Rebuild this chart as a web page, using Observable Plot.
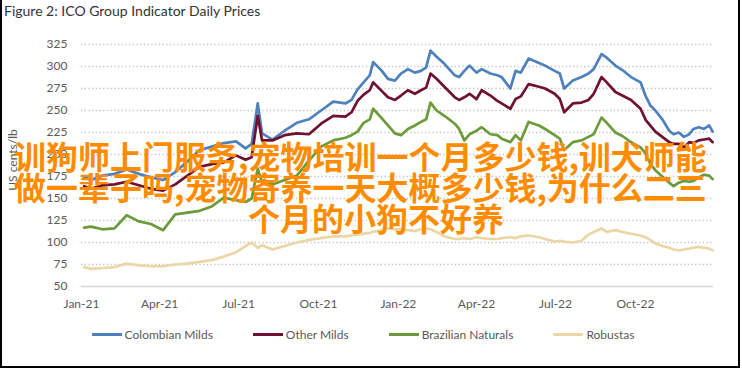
<!DOCTYPE html>
<html><head><meta charset="utf-8">
<script src="https://cdn.jsdelivr.net/npm/d3@7"></script>
<script src="https://cdn.jsdelivr.net/npm/@observablehq/plot@0.6"></script>
<style>
html,body{margin:0;padding:0;background:#fff;}
#wrap{position:relative;width:742px;height:369px;overflow:hidden;font-family:Lato,"Open Sans",sans-serif;}
#frame{position:absolute;left:0;top:-2px;width:736px;height:366px;border:2px solid #000;}
#title{position:absolute;left:4px;top:2px;font-size:14px;color:#333;white-space:nowrap;}
#chart{position:absolute;left:0;top:0;}
#ylabel{position:absolute;left:12px;top:160px;transform:translate(-50%,-50%) rotate(-90deg);font-size:12px;color:#595959;white-space:nowrap;}
#legend{position:absolute;left:-8px;top:327px;width:742px;display:flex;justify-content:center;gap:40px;font-size:12px;color:#595959;}
#legend .item{display:flex;align-items:center;gap:3px;white-space:nowrap;}
#legend .sw{width:30px;height:3px;}
#overlay{position:absolute;left:14px;top:140px;width:724px;font-family:"Noto Sans CJK SC",sans-serif;font-weight:700;font-size:32px;line-height:31px;color:#ff8c00;white-space:nowrap;}
#overlay div{text-align:left;}
#overlay div.last{text-align:center;}
</style></head>
<body>
<div id="wrap">
  <div id="frame"></div>
  <div id="title"></div>
  <div id="chart"></div>
  <div id="ylabel"></div>
  <div id="legend"></div>
  <div id="overlay"></div>
</div>
<script>
const titleText = "Figure 2: ICO Group Indicator Daily Prices";
const yLabel = "US cents/lb";
const seriesNames = ["Colombian Milds", "Other Milds", "Brazilian Naturals", "Robustas"];
const seriesColors = ["#4f81bd", "#6e1230", "#6b9b3a", "#ecd6a6"];
const yTicks = [50, 75, 100, 125, 150, 175, 200, 225, 250, 275, 300, 325];
const xTickDates = ["2021-01-01","2021-04-01","2021-07-01","2021-10-01","2022-01-01","2022-04-01","2022-07-01","2022-10-01"];
const overlayLines = [
  "训狗师上门服务,宠物培训一个月多少钱,训犬师能",
  "做一辈子吗,宠物寄养一天大概多少钱,为什么二三",
  "个月的小狗不好养"
];

const dates = [
 "2021-01-04","2021-01-12","2021-01-25","2021-02-08","2021-02-22","2021-03-08","2021-03-22","2021-04-05","2021-04-19","2021-05-03",
 "2021-05-17","2021-05-31","2021-06-14","2021-06-28","2021-07-09","2021-07-16","2021-07-23","2021-07-28","2021-08-09","2021-08-23",
 "2021-09-06","2021-09-20","2021-10-04","2021-10-18","2021-11-01","2021-11-08","2021-11-15","2021-11-22","2021-11-29","2021-12-03",
 "2021-12-13","2021-12-20","2021-12-28",
 "2022-01-04","2022-01-12","2022-01-20","2022-01-27","2022-02-02","2022-02-07","2022-02-14","2022-02-23","2022-03-07","2022-03-12",
 "2022-03-18","2022-03-24","2022-04-01","2022-04-07","2022-04-17","2022-04-25","2022-04-30","2022-05-10","2022-05-16","2022-05-22",
 "2022-05-31","2022-06-12","2022-06-19","2022-06-30","2022-07-06","2022-07-11","2022-07-21","2022-07-31","2022-08-08","2022-08-14",
 "2022-08-23","2022-08-29","2022-09-08","2022-09-16","2022-09-26","2022-10-07","2022-10-13","2022-10-18","2022-10-24","2022-11-01",
 "2022-11-09","2022-11-14","2022-11-20","2022-11-26","2022-12-02","2022-12-07","2022-12-13","2022-12-19","2022-12-25","2022-12-29"
];
const colombianMilds = [
 174,171,176,178,183,178,174,171,180,192,
 205,209,213,215,207,212,258,224,217,227,
 236,240,250,260,258,262,274,282,290,305,
 295,286,284,
 292,297,293,295,299,318,311,303,290,288,
 295,301,293,297,292,290,288,275,295,293,
 309,304,301,295,292,275,284,288,292,297,
 314,310,301,296,288,282,266,256,250,240,
 227,223,225,220,223,229,231,229,233,226
];
const otherMilds = [
 164,161,165,166,169,165,161,159,166,176,
 186,189,191,199,194,197,244,216,216,222,
 224,223,235,244,243,248,261,268,273,282,
 272,265,262,
 267,273,269,273,276,292,286,277,265,262,
 265,269,263,273,267,261,258,252,263,266,
 280,277,275,269,263,248,258,259,262,269,
 288,282,271,267,262,252,239,233,226,220,
 214,212,212,208,214,213,216,217,218,214
];
const brazilianNaturals = [
 117,118,115,116,131,124,121,114,132,134,
 136,141,151,148,146,150,184,168,166,171,
 176,193,209,216,219,222,226,236,240,252,
 241,233,224,
 222,229,233,237,240,259,250,244,235,229,
 216,223,227,231,223,222,218,214,222,216,
 237,233,229,222,218,205,214,216,220,223,
 242,236,225,221,214,208,201,190,182,175,
 168,164,168,170,169,170,174,177,176,172
];
const robustas = [
 72,70,71,72,76,74,73,73,75,76,
 78,80,84,89,96,100,94,97,92,96,
 100,103,105,107,107,108,109,110,111,112,
 114,116,115,
 115,114,113,115,116,115,112,107,104,104,
 105,104,106,105,104,104,105,106,105,107,
 108,106,104,101,102,101,100,102,109,112,
 116,112,114,112,110,108,106,103,99,96,
 94,92,91,92,93,94,95,94,93,91
];

const parse = d3.utcParse("%Y-%m-%d");
const seriesValues = [colombianMilds, otherMilds, brazilianNaturals, robustas];
const rows = [];
seriesNames.forEach((name, s) => {
  dates.forEach((d, i) => rows.push({date: parse(d), value: seriesValues[s][i], series: name}));
});

document.getElementById("title").textContent = titleText;
document.getElementById("ylabel").textContent = yLabel;

const chart = Plot.plot({
  width: 742,
  height: 320,
  marginTop: 44,
  marginBottom: 34,
  marginLeft: 81,
  marginRight: 29,
  style: {fontFamily: "Lato, 'Open Sans', sans-serif", fontSize: "12px", color: "#595959", background: "transparent", overflow: "visible"},
  x: {type: "utc", domain: [parse("2021-01-01"), parse("2022-12-30")]},
  y: {domain: [50, 325]},
  color: {domain: seriesNames, range: seriesColors},
  marks: [
    Plot.gridY(yTicks.filter(v => v > 50), {stroke: "#c4c4c4", strokeOpacity: 1, strokeWidth: 1.3, strokeDasharray: "1.3,2.4"}),
    Plot.ruleY([50], {stroke: "#d4d4d4", strokeWidth: 1.5}),
    Plot.axisY(yTicks, {tickSize: 0, tickPadding: 14, label: null, fill: "#595959"}),
    Plot.axisX(xTickDates.map(parse), {tickSize: 0, tickPadding: 13, tickFormat: d3.utcFormat("%b-%y"), label: null, fill: "#595959"}),
    Plot.line(rows, {x: "date", y: "value", z: "series", stroke: "series", strokeWidth: 2.7})
  ]
});
document.getElementById("chart").appendChild(chart);

const legend = document.getElementById("legend");
seriesNames.forEach((name, i) => {
  const item = document.createElement("div");
  item.className = "item";
  const sw = document.createElement("div");
  sw.className = "sw";
  sw.style.background = seriesColors[i];
  const label = document.createElement("span");
  label.textContent = name;
  item.appendChild(sw);
  item.appendChild(label);
  legend.appendChild(item);
});

const overlay = document.getElementById("overlay");
overlayLines.forEach((line, i) => {
  const div = document.createElement("div");
  div.textContent = line;
  if (i === overlayLines.length - 1) div.className = "last";
  overlay.appendChild(div);
});
</script>
</body></html>
